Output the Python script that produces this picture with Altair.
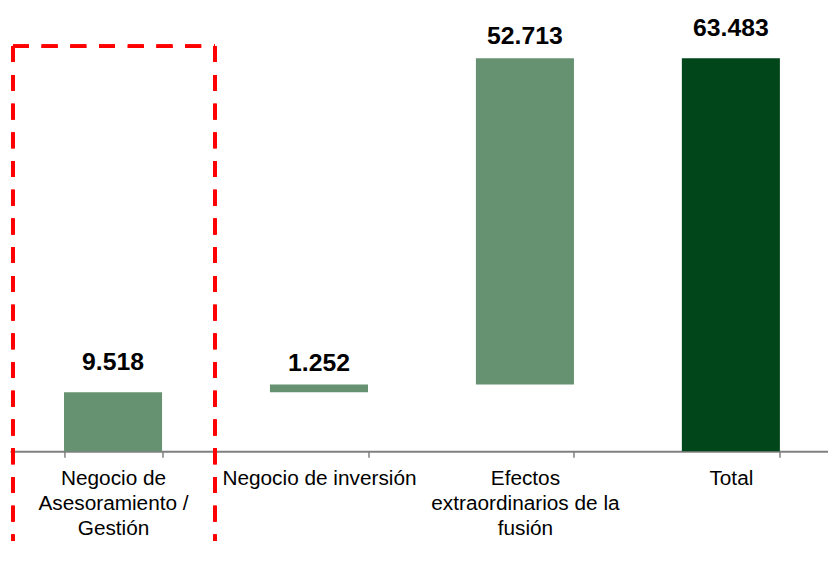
import altair as alt
import pandas as pd

categories = [
    "Negocio de Asesoramiento / Gestión",
    "Negocio de inversión",
    "Efectos extraordinarios de la fusión",
    "Total",
]
label_lines = [
    ["Negocio de", "Asesoramiento /", "Gestión"],
    ["Negocio de inversión"],
    ["Efectos", "extraordinarios de la", "fusión"],
    ["Total"],
]
values = [9518, 1252, 52713, 63483]
kinds = ["step", "step", "step", "total"]

starts, ends = [], []
running = 0
for v, k in zip(values, kinds):
    if k == "total":
        starts.append(0)
        ends.append(v)
    else:
        starts.append(running)
        running += v
        ends.append(running)

df = pd.DataFrame({
    "cat": categories,
    "start": starts,
    "end": ends,
    "kind": kinds,
    "label": [f"{v:,}".replace(",", ".") for v in values],
})

# multi-line axis labels
expr = "''"
for c, lines in reversed(list(zip(categories, label_lines))):
    arr = "[" + ",".join("'" + l + "'" for l in lines) + "]"
    expr = f"datum.value == '{c}' ? {arr} : ({expr})"

xscale = alt.Scale(domain=categories, paddingInner=0.524, paddingOuter=0.248, align=0.529)
yscale = alt.Scale(domain=[0, 71200], nice=False, zero=True)

base = alt.Chart(df)

bars = base.mark_bar().encode(
    x=alt.X("cat:N", scale=xscale, sort=categories,
            axis=alt.Axis(title=None, labelAngle=0, labelExpr=expr, labelFontSize=21,
                          labelFont="Liberation Sans", labelColor="#000000",
                          labelLineHeight=25, labelPadding=11, labelOverlap=False,
                          labelLimit=400, domainColor="#808080", domainWidth=2,
                          tickColor="#808080", tickWidth=1.5, tickSize=6,
                          tickBand="extent", grid=False)),
    y=alt.Y("start:Q", scale=yscale, axis=None),
    y2="end:Q",
    color=alt.Color("kind:N", scale=alt.Scale(domain=["step", "total"],
                                              range=["#669271", "#01451A"]), legend=None),
)

high = ["Negocio de Asesoramiento / Gestión", "Total"]
low = ["Negocio de inversión", "Efectos extraordinarios de la fusión"]

def labels(cats, dy):
    return base.transform_filter(alt.FieldOneOfPredicate(field="cat", oneOf=cats)).mark_text(
        font="Liberation Sans", fontSize=25, fontWeight="bold", color="#000000",
        baseline="alphabetic", dy=dy,
    ).encode(
        x=alt.X("cat:N", scale=xscale, sort=categories),
        y=alt.Y("end:Q", scale=yscale),
        text="label:N",
    )

box_style = dict(color="#FF0000", strokeWidth=3.5, strokeDash=[16, 13])
box_left = alt.Chart(df).mark_rule(**box_style).encode(
    x=alt.value(3), y=alt.value(36), y2=alt.value(620))
box_right = alt.Chart(df).mark_rule(**box_style).encode(
    x=alt.value(207), y=alt.value(36), y2=alt.value(620))
box_top = alt.Chart(df).mark_rule(**box_style).encode(
    x=alt.value(3), x2=alt.value(207), y=alt.value(36))

chart = alt.layer(
    bars, labels(high, -23), labels(low, -14), box_left, box_right, box_top
).properties(
    width=826, height=445,
    padding={"left": 2, "top": 0, "right": 0, "bottom": 88},
    autosize=alt.AutoSizeParams(type="none"),
).configure_view(stroke=None)

chart.save("out.html", embed_options={"renderer": "svg", "actions": False})
